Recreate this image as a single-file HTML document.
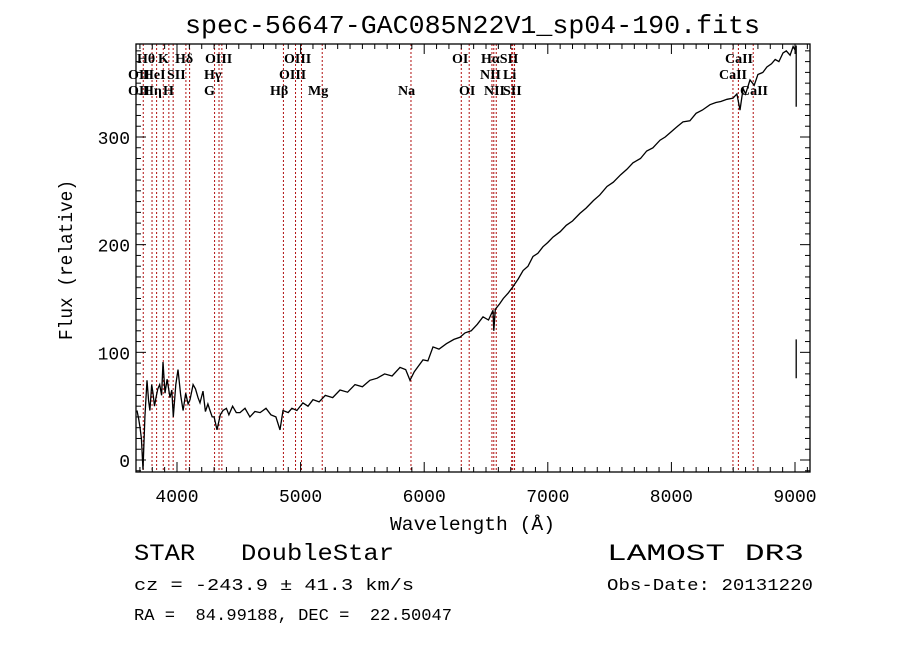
<!DOCTYPE html>
<html><head><meta charset="utf-8"><style>
html,body{margin:0;padding:0;background:#fff;}
svg{display:block;}
text{font-family:"Liberation Mono",monospace;fill:#000;white-space:pre;}
.ln{font-family:"Liberation Serif",serif;font-size:14px;font-weight:bold;}
</style></head><body>
<svg id="chart" width="900" height="649" viewBox="0 0 900 649" xmlns="http://www.w3.org/2000/svg" xml:space="preserve">
<text x="185" y="33" font-size="26" textLength="575" lengthAdjust="spacingAndGlyphs">spec-56647-GAC085N22V1_sp04-190.fits</text>
<g id="lines"></g>
<g id="labels"></g>
<g id="axes"></g>
<path id="spec" fill="none" stroke="#000" stroke-width="1.3"/>
<rect x="136" y="44" width="674" height="428" fill="none" stroke="#000" stroke-width="1.3"/>
<text x="390" y="530" font-size="19" textLength="165" lengthAdjust="spacingAndGlyphs">Wavelength (Å)</text>
<text transform="translate(72,340) rotate(-90)" font-size="19" textLength="160" lengthAdjust="spacingAndGlyphs">Flux (relative)</text>
<text x="134" y="560" font-size="23" textLength="260" lengthAdjust="spacingAndGlyphs">STAR   DoubleStar</text>
<text x="134" y="590" font-size="17" textLength="280" lengthAdjust="spacingAndGlyphs">cz = -243.9 ± 41.3 km/s</text>
<text x="134" y="620" font-size="17" textLength="318" lengthAdjust="spacingAndGlyphs">RA =  84.99188, DEC =  22.50047</text>
<text x="607" y="560" font-size="23" textLength="197" lengthAdjust="spacingAndGlyphs">LAMOST DR3</text>
<text x="607" y="590" font-size="17" textLength="206" lengthAdjust="spacingAndGlyphs">Obs-Date: 20131220</text>
</svg>
<script>
const waves=[3676,3690,3700,3712,3725,3740,3757,3770,3781,3795,3806,3818,3830,3845,3860,3875,3887,3903,3920,3943,3958,3970,3990,4008,4030,4049,4070,4090,4105,4130,4150,4170,4186,4210,4230,4250,4267,4285,4300,4324,4350,4372,4400,4420,4450,4480,4510,4550,4590,4630,4672,4720,4760,4800,4833,4858,4900,4930,4970,5019,5060,5100,5150,5200,5260,5319,5380,5440,5500,5561,5620,5680,5740,5804,5850,5885,5920,5990,6030,6071,6120,6180,6240,6290,6330,6380,6430,6476,6520,6557,6563,6575,6610,6640,6680,6718,6760,6800,6840,6880,6920,6960,7000,7042,7100,7150,7200,7260,7310,7370,7420,7479,7530,7590,7640,7689,7750,7800,7850,7908,7950,8000,8050,8094,8150,8200,8250,8312,8360,8400,8450,8498,8530,8555,8580,8600,8636,8670,8700,8740,8773,8810,8840,8870,8903,8930,8960,8985,9000];
const flux=[46,38,31,20,-9,40,74,55,46,70,62,50,58,66,70,60,91,62,75,58,65,40,70,84,60,46,62,52,56,70,66,58,53,64,45,52,46,40,40,28,42,46,48,42,50,44,44,48,40,45,44,48,42,40,28,46,44,48,46,53,50,56,54,60,58,65,63,70,68,74,76,80,78,86,84,74,82,93,92,105,103,108,112,114,118,120,126,133,130,139,120,140,145,150,155,161,168,176,180,189,192,198,202,207,212,218,222,229,234,241,246,254,258,265,270,276,280,287,290,297,300,305,310,314,315,322,325,330,332,333,335,336,340,325,345,340,353,348,358,360,365,368,372,370,378,380,376,384,381];
const xTicks=[4000,5000,6000,7000,8000,9000];
const yTicks=[0,100,200,300];
const lineWaves=[3727,3798,3835,3889,3934,3969,4072,4102,4304,4340,4363,4861,4959,5007,5175,5893,6300,6364,6548,6563,6583,6708,6716,6731,8498,8542,8662];
const lineLabels=[["Hθ",137,1],["K",158,1],["Hδ",175,1],["OIII",205,1],["OIII",284,1],["OI",452,1],["HαSII",481,1],["CaII",725,1],
["OII",128,2],["HeI",143,2],["SII",167,2],["Hγ",204,2],["OIII",279,2],["NII",480,2],["Li",503,2],["CaII",719,2],
["OII",128,3],["Hη",143,3],["H",163,3],["G",204,3],["Hβ",270,3],["Mg",308,3],["Na",398,3],["OI",459,3],["NII",484,3],["SII",503,3],["CaII",740,3]];
const X=w=>177+(w-4000)*0.1236;
const Y=f=>460-f*1.0767;
const NS="http://www.w3.org/2000/svg";
const lg=document.getElementById('lines');
lineWaves.forEach(w=>{const l=document.createElementNS(NS,'line');


l.setAttribute('x1',X(w));l.setAttribute('x2',X(w));l.setAttribute('y1',44);l.setAttribute('y2',472);
l.setAttribute('stroke','#b01010');l.setAttribute('stroke-width','1');l.setAttribute('stroke-dasharray','2,2');lg.appendChild(l);});
const lb=document.getElementById('labels');
lineLabels.forEach(a=>{const t=document.createElementNS(NS,'text');


t.setAttribute('class','ln');t.setAttribute('x',a[1]);t.setAttribute('y',47+a[2]*16);t.textContent=a[0];lb.appendChild(t);});
const ax=document.getElementById('axes');
function ln(x1,y1,x2,y2){const l=document.createElementNS(NS,'line');


l.setAttribute('x1',x1);l.setAttribute('y1',y1);l.setAttribute('x2',x2);l.setAttribute('y2',y2);l.setAttribute('stroke','#000');ax.appendChild(l);}
for(let w=3700;w<=9100;w+=100){const big=w%1000===0;const x=X(w);ln(x,472,x,472-(big?10:5));ln(x,44,x,44+(big?10:5));}
for(let f=-10;f<=380;f+=10){const big=f%100===0;const y=Y(f);ln(136,y,136+(big?10:5),y);ln(810,y,810-(big?10:5),y);}
xTicks.forEach(w=>{const t=document.createElementNS(NS,'text');


t.setAttribute('x',X(w));t.setAttribute('y',502);t.setAttribute('font-size','18');t.setAttribute('text-anchor','middle');t.textContent=w;ax.appendChild(t);});
yTicks.forEach(f=>{const t=document.createElementNS(NS,'text');


t.setAttribute('x',130);t.setAttribute('y',Y(f)+7);t.setAttribute('font-size','18');t.setAttribute('text-anchor','end');t.textContent=f;ax.appendChild(t);});
let d='';waves.forEach((w,i)=>{d+=(i?'L':'M')+X(w).toFixed(1)+','+Y(flux[i]).toFixed(1);});
d+='M'+X(9010).toFixed(1)+','+Y(385).toFixed(1)+'L'+X(9010).toFixed(1)+','+Y(328).toFixed(1);
d+='M'+X(9010).toFixed(1)+','+Y(112).toFixed(1)+'L'+X(9010).toFixed(1)+','+Y(76).toFixed(1);
document.getElementById('spec').setAttribute('d',d);
</script>
</body></html>
